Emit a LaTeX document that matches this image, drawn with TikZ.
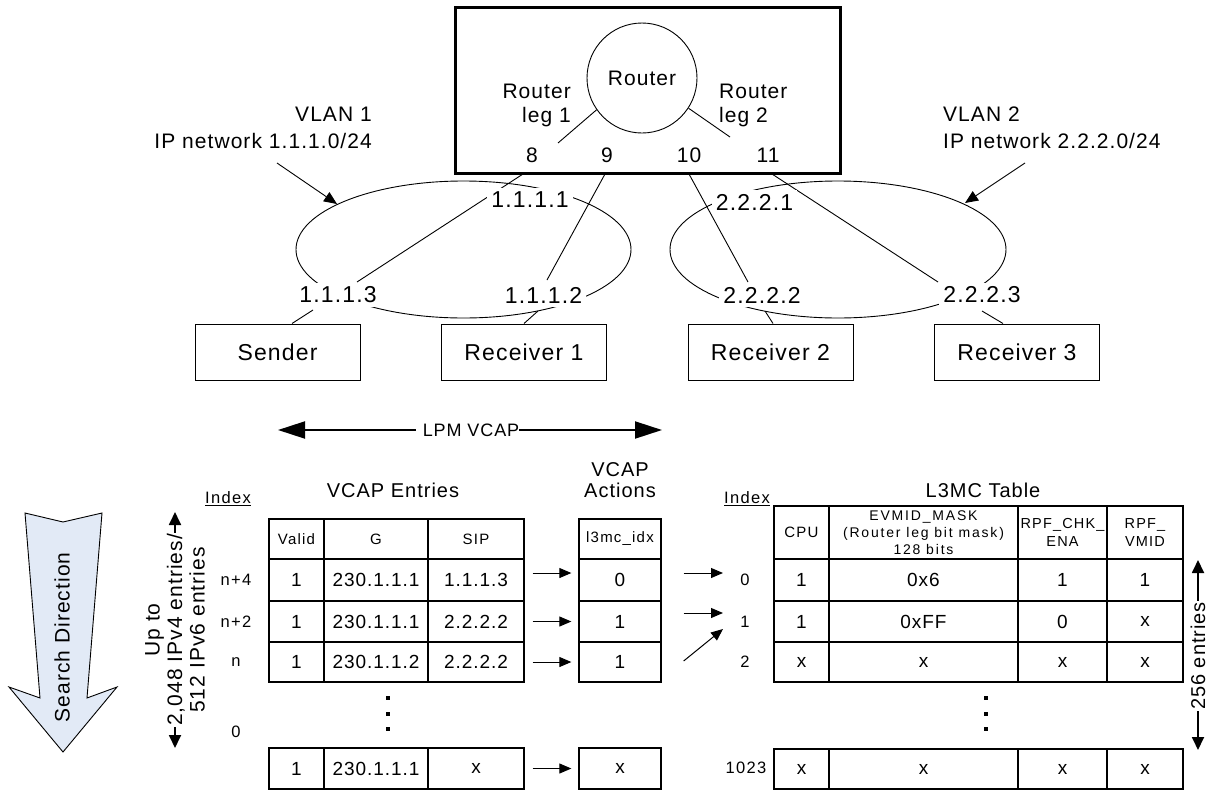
\documentclass[tikz,border=0pt]{standalone}
\usepackage{fontspec}
\setmainfont{Liberation Sans}[LetterSpace=5]
\newfontfamily\hdrfont{Liberation Sans}[LetterSpace=8]
\newfontfamily\widefont{Liberation Sans}[LetterSpace=13]
\usetikzlibrary{arrows.meta,calc,shapes.geometric}
\definecolor{sdfill}{RGB}{226,234,246}
\begin{document}
\begin{tikzpicture}[x=1pt,y=-1pt,
  every node/.style={inner sep=2pt},
  thinln/.style={line width=0.9pt},
  big/.style={font=\fontsize{23}{27}\selectfont},
  med/.style={font=\fontsize{21}{24}\selectfont},
  ip/.style={big, fill=white, inner sep=4pt},
  host/.style={draw, line width=1pt, minimum width=165pt, minimum height=56pt, big},
  cell/.style={draw, line width=1.3pt, inner sep=0pt, font=\fontsize{19}{22}\selectfont},
  hdr/.style={font=\hdrfont\fontsize{15}{18}\selectfont},
  idx/.style={font=\hdrfont\fontsize{16.5}{19}\selectfont},
  ttl/.style={font=\fontsize{20}{21}\selectfont},
  arr/.style={line width=1pt, -{Triangle[length=12pt,width=10pt]}},
  bigarr/.style={line width=2pt, -{Triangle[length=27pt,width=17pt]}},
  sidearr/.style={line width=1.8pt, -{Triangle[length=13pt,width=12pt]}},
  vlanarr/.style={line width=0.9pt, -{Triangle[length=13pt,width=11pt]}},
  sqdot/.style={fill, minimum size=4pt, inner sep=0pt}
]
\useasboundingbox (0,0) rectangle (1211,790);

% ---------- router ----------
\node[draw, line width=3pt, minimum width=385pt, minimum height=166pt] (rbox) at (647.5,90) {};
\node[draw, circle, line width=0.9pt, minimum size=110pt, inner sep=0pt, med] (router) at (642,78) {Router};
\node[med, align=right, anchor=east] (leg1) at (573,105) {Router\\leg 1};
\node[med, align=left, anchor=west] (leg2) at (717,105) {Router\\leg 2};
\coordinate (leg1e) at (558,143);
\coordinate (leg2e) at (730,137);
\draw[thinln] (router.215) -- (leg1e);
\draw[thinln] (router.327) -- (leg2e);
\node[med] (p8) at (532,155) {8};
\node[med] (p9) at (607,155) {9};
\node[med] (p10) at (689,155) {10};
\node[med] (p11) at (768,155) {11};

% ---------- networks ----------
\node[draw, ellipse, thinln, minimum width=335pt, minimum height=137pt, inner sep=0pt] (net1) at (463.5,249.5) {};
\node[draw, ellipse, thinln, minimum width=336pt, minimum height=137pt, inner sep=0pt] (net2) at (838,249.5) {};

\coordinate (b8) at (523,174);
\coordinate (b9) at (605,174);
\coordinate (b10) at (689,174);
\coordinate (b11) at (772,174);
\coordinate (e8) at (357,282);
\coordinate (e9) at (547,280);
\coordinate (e10) at (748,282);
\coordinate (e11) at (938,282);
\draw[thinln] (b8) -- (e8);
\draw[thinln] (b9) -- (e9);
\draw[thinln] (b10) -- (e10);
\draw[thinln] (b11) -- (e11);

\node[ip] (a1) at (530,200) {1.1.1.1};
\node[ip] (a3) at (338,295) {1.1.1.3};
\node[ip] (a2) at (543.5,295) {1.1.1.2};
\node[ip] (c1) at (754.5,202) {2.2.2.1};
\node[ip] (c2) at (762,295) {2.2.2.2};
\node[ip] (c3) at (982,295) {2.2.2.3};

% ---------- hosts ----------
\node[host] (snd) at (277.5,352) {Sender};
\node[host] (rc1) at (524,352) {Receiver 1};
\node[host] (rc2) at (770.5,352) {Receiver 2};
\node[host] (rc3) at (1017,352) {Receiver 3};
\coordinate (h1) at (313,310);
\coordinate (h2) at (538,311);
\coordinate (h3) at (765,311);
\coordinate (h4) at (982,311);
\draw[thinln] (h1) -- ($(snd.north)+(14.5,0)$);
\draw[thinln] (h2) -- (rc1.north);
\draw[thinln] (h3) -- ($(rc2.north)+(2.5,0)$);
\draw[thinln] (h4) -- ($(rc3.north)+(-14,0)$);

% ---------- VLAN labels ----------
\node[align=right, anchor=east, font=\fontsize{21}{27}\selectfont] (vl1) at (374,128) {VLAN 1\\IP network 1.1.1.0/24};
\node[align=left, anchor=west, font=\fontsize{21}{27}\selectfont] (vl2) at (941,128) {VLAN 2\\IP network 2.2.2.0/24};
\coordinate (v1s) at (277,163);
\coordinate (v1e) at (337,204);
\coordinate (v2s) at (1025,163);
\coordinate (v2e) at (965,203);
\draw[vlanarr] (v1s) -- (v1e);
\draw[vlanarr] (v2s) -- (v2e);

% ---------- LPM VCAP ----------
\node[font=\fontsize{18}{20}\selectfont, inner sep=4pt] (lpm) at (471,430) {LPM VCAP};
\coordinate (lpmL) at (278,430);
\coordinate (lpmR) at (662,430);
\draw[bigarr] ([xshift=-3pt]lpm.west) -- (lpmL);
\draw[bigarr] ([xshift=-4pt]lpm.east) -- (lpmR);

% ---------- search direction ----------
\draw[thinln, fill=sdfill] (25,513) -- (63,522) -- (102,513) -- (87,698) -- (117,687) -- (63,752) -- (9,687) -- (40,698) -- cycle;
\node[rotate=90, med] (sd) at (62,637.5) {Search Direction};

% ---------- side range ----------
\node[rotate=90, align=center, font=\fontsize{21}{22.5}\selectfont, inner sep=1pt] (upto) at (175,630) {Up to\\2,048 IPv4 entries/\\512 IPv6 entries};
\coordinate (uptop) at (176,512);
\coordinate (upbot) at (176,748);
\draw[sidearr] (upto.east) -- (upto.east |- uptop);
\draw[sidearr] (upto.west) -- (upto.west |- upbot);

% ---------- titles ----------
\node[ttl] (vent) at (393,490) {VCAP Entries};
\node[ttl, align=center] (vact) at (620,480) {VCAP\\Actions};
\node[ttl] (l3t) at (983,490) {L3MC Table};
\node[idx] (ixl) at (228,499) {\underline{Index}};
\node[idx] (ixr) at (747,499) {\underline{Index}};

% ---------- VCAP table ----------
\node[cell,hdr, minimum width=55pt, minimum height=40pt] (hv) at (296.5,539) {Valid};
\node[cell,hdr, minimum width=104pt, minimum height=40pt] (hg) at (376,539) {G};
\node[cell,hdr, minimum width=96pt, minimum height=40pt] (hs) at (476,539) {SIP};
\node[cell,hdr, minimum width=82pt, minimum height=40pt] (ha) at (620,539) {l3mc\_idx};
\foreach \n/\y/\h/\v/\g/\s/\a in {1/580/42/1/230.1.1.1/1.1.1.3/0, 2/621.5/41/1/230.1.1.1/2.2.2.2/1, 3/662/40/1/230.1.1.2/2.2.2.2/1, 4/768.5/41/1/230.1.1.1/x/x}{
  \node[cell, minimum width=55pt, minimum height=\h pt] (v\n) at (296.5,\y) {\v};
  \node[cell, minimum width=104pt, minimum height=\h pt] (g\n) at (376,\y) {\g};
  \node[cell, minimum width=96pt, minimum height=\h pt] (s\n) at (476,\y) {\s};
  \node[cell, minimum width=82pt, minimum height=\h pt] (a\n) at (620,\y) {\a};
}
\node[idx] (n4) at (236,580) {n+4};
\node[idx] (n2) at (236,621.5) {n+2};
\node[idx] (n0) at (236,662) {n};
\node[idx] (z0) at (236,731.5) {0};
\node[sqdot] (d1) at (388,698) {};
\node[sqdot] (d2) at (388,714) {};
\node[sqdot] (d3) at (388,729) {};

\draw[arr] ([xshift=8pt,yshift=7pt]s1.east) -- ([xshift=-7pt,yshift=7pt]a1.west);
\draw[arr] ([xshift=8pt]s2.east) -- ([xshift=-7pt]a2.west);
\draw[arr] ([xshift=8pt]s3.east) -- ([xshift=-7pt]a3.west);
\draw[arr] ([xshift=8pt]s4.east) -- ([xshift=-7pt]a4.west);

% ---------- L3MC table ----------
\node[cell,hdr, minimum width=55pt, minimum height=53pt] (hc) at (801.5,532.5) {CPU};
\node[cell, minimum width=189pt, minimum height=53pt, align=center, font=\widefont\fontsize{14}{17}\selectfont] (he) at (923.5,532.5) {EVMID\_MASK\\(Router leg bit mask)\\128 bits};
\node[cell, minimum width=89pt, minimum height=53pt, align=center, font=\hdrfont\fontsize{14.5}{18}\selectfont] (hr) at (1062.5,532.5) {RPF\_CHK\_\\ENA};
\node[cell, minimum width=76pt, minimum height=53pt, align=center, font=\hdrfont\fontsize{14.5}{18}\selectfont] (hm) at (1145,532.5) {RPF\_\\VMID};
\foreach \n/\y/\h/\c/\e/\r/\m in {1/580/42/1/0x6/1/1, 2/621.5/41/1/0xFF/0/x, 3/662/40/x/x/x/x, 4/769/40/x/x/x/x}{
  \node[cell, minimum width=55pt, minimum height=\h pt] (lc\n) at (801.5,\y) {\c};
  \node[cell, minimum width=189pt, minimum height=\h pt] (le\n) at (923.5,\y) {\e};
  \node[cell, minimum width=89pt, minimum height=\h pt] (lr\n) at (1062.5,\y) {\r};
  \node[cell, minimum width=76pt, minimum height=\h pt] (lm\n) at (1145,\y) {\m};
}
\node[idx] (i0) at (745,580) {0};
\node[idx] (i1) at (745,621.5) {1};
\node[idx] (i2) at (745,662) {2};
\node[idx] (i3) at (746,768) {1023};
\node[sqdot] (d4) at (986,698) {};
\node[sqdot] (d5) at (986,714) {};
\node[sqdot] (d6) at (986,729) {};

\draw[arr] ([xshift=22pt,yshift=7pt]a1.east) -- ([xshift=-22pt,yshift=7pt]i0.center);
\draw[arr] ([xshift=22pt,yshift=8.5pt]a2.east) -- ([xshift=-22pt,yshift=8.5pt]i1.center);
\draw[arr] ([xshift=22pt,yshift=1pt]a3.east) -- ([xshift=-22pt,yshift=-7.5pt]i1.center);

% ---------- 256 entries ----------
\node[rotate=90, font=\fontsize{20}{22}\selectfont, inner sep=1pt] (e256) at (1198,656) {256 entries};
\coordinate (t256) at (1198,560);
\coordinate (b256) at (1198,750);
\draw[sidearr] (e256.east) -- (t256);
\draw[sidearr] (e256.west) -- (b256);
\end{tikzpicture}
\end{document}
